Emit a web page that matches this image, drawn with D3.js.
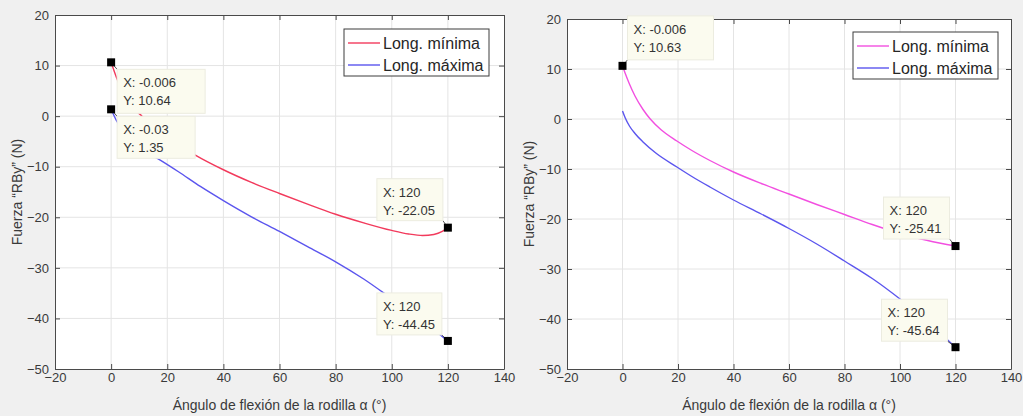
<!DOCTYPE html>
<html>
<head>
<meta charset="utf-8">
<script src="https://cdn.jsdelivr.net/npm/d3@7"></script>
<style>
  body { margin: 0; background: #f0f0f0; }
  svg { display: block; }
  text { font-family: "Liberation Sans", Arial, Helvetica, sans-serif; }
</style>
</head>
<body>
<svg id="chart" width="1023" height="416"></svg>
<script>
// ---- data ----
const xTicks = [-20, 0, 20, 40, 60, 80, 100, 120, 140];
const yTicks = [-50, -40, -30, -20, -10, 0, 10, 20];
const seriesNames = ["Long. mínima", "Long. máxima"];
const xLabel = "Ángulo de flexión de la rodilla α (°)";
const yLabel = "Fuerza \u201cRBy\u201d (N)";

// left panel – minimum length
const leftMinAngle = [0, 2, 4, 7, 11, 16, 22, 30, 40, 50, 60, 70, 80, 90, 100, 106, 111, 115, 118, 120];
const leftMinForce = [10.64, 7.5, 5.0, 2.2, 0.0, -2.4, -4.9, -7.7, -10.6, -13.1, -15.3, -17.4, -19.4, -21.1, -22.6, -23.3, -23.6, -23.4, -22.8, -22.05];
// left panel – maximum length
const leftMaxAngle = [0, 2, 5, 9, 13, 17.5, 24, 31.8, 40, 50, 60, 70, 80, 90, 100, 110, 120];
const leftMaxForce = [1.35, -1.0, -3.3, -5.5, -7.2, -8.7, -11.0, -13.9, -16.7, -19.9, -22.8, -25.8, -28.8, -32.2, -36.1, -40.1, -44.45];
// right panel – minimum length
const rightMinAngle = [0, 1, 2.5, 4.5, 7.4, 10, 14, 19.6, 25, 31.5, 40, 50, 60, 70, 80, 90, 100, 110, 120];
const rightMinForce = [10.63, 9.1, 7.0, 4.6, 1.9, 0.0, -2.2, -4.4, -6.3, -8.3, -10.6, -12.9, -15.0, -17.1, -19.1, -21.1, -22.9, -24.3, -25.41];
// right panel – maximum length
const rightMaxAngle = [0, 1, 2.5, 4.5, 7.4, 12, 19.6, 25, 31.5, 40, 50, 60, 70, 80, 90, 100, 110, 120];
const rightMaxForce = [1.6, 0.2, -1.4, -2.9, -4.6, -6.8, -9.6, -11.5, -13.6, -16.2, -19.0, -21.9, -25.0, -28.4, -31.9, -36.0, -40.6, -45.64];

// data tips
const leftTipAngles = [0, 0, 120, 120];
const leftTipForces = [10.64, 1.35, -22.05, -44.45];
const leftTipLabels = [["X: -0.006", "Y: 10.64"], ["X: -0.03", "Y: 1.35"], ["X: 120", "Y: -22.05"], ["X: 120", "Y: -44.45"]];
const rightTipAngles = [0, 120, 120];
const rightTipForces = [10.63, -25.41, -45.64];
const rightTipLabels = [["X: -0.006", "Y: 10.63"], ["X: 120", "Y: -25.41"], ["X: 120", "Y: -45.64"]];

// ---- layout / style ----
const panels = [
  {
    box: { x0: 55, x1: 504, y0: 15, y1: 369 },
    series: [
      { xs: leftMinAngle, ys: leftMinForce, color: "#f23a5c" },
      { xs: leftMaxAngle, ys: leftMaxForce, color: "#5b55ee" }
    ],
    tips: { xs: leftTipAngles, ys: leftTipForces, labels: leftTipLabels,
      place: [{ dx: 6, dy: 7, w: 88, h: 44 }, { dx: 6, dy: 7, w: 78, h: 42 },
              { dx: -71, dy: -49, w: 66, h: 42 }, { dx: -71, dy: -48, w: 65, h: 42 }] },
    legend: { right: 15, top: 14 }
  },
  {
    box: { x0: 567, x1: 1011, y0: 19, y1: 369 },
    series: [
      { xs: rightMinAngle, ys: rightMinForce, color: "#f24fe0" },
      { xs: rightMaxAngle, ys: rightMaxForce, color: "#5b55ee" }
    ],
    tips: { xs: rightTipAngles, ys: rightTipForces, labels: rightTipLabels,
      place: [{ dx: 5, dy: -50, w: 86, h: 44 }, { dx: -72, dy: -49, w: 66, h: 42 },
              { dx: -74, dy: -48, w: 66, h: 42 }] },
    legend: { right: 13, top: 13 }
  }
];

const svg = d3.select("#chart");
const axisColor = "#4a4a4a";
const textColor = "#3a3a3a";

panels.forEach(p => {
  const b = p.box;
  const x = d3.scaleLinear().domain([-20, 140]).range([b.x0, b.x1]);
  const y = d3.scaleLinear().domain([-50, 20]).range([b.y1, b.y0]);
  const g = svg.append("g");

  // plot area
  g.append("rect").attr("x", b.x0).attr("y", b.y0)
    .attr("width", b.x1 - b.x0).attr("height", b.y1 - b.y0).attr("fill", "#ffffff");

  // grid
  g.append("g").selectAll("line").data(xTicks.slice(1, -1)).join("line")
    .attr("x1", d => x(d)).attr("x2", d => x(d)).attr("y1", b.y0).attr("y2", b.y1)
    .attr("stroke", "#e4e4e4").attr("stroke-width", 1);
  g.append("g").selectAll("line").data(yTicks.slice(1, -1)).join("line")
    .attr("x1", b.x0).attr("x2", b.x1).attr("y1", d => y(d)).attr("y2", d => y(d))
    .attr("stroke", "#e4e4e4").attr("stroke-width", 1);

  // curves
  const line = d3.line().x(d => x(d[0])).y(d => y(d[1])).curve(d3.curveMonotoneX);
  p.series.forEach(s => {
    g.append("path").datum(s.xs.map((v, i) => [v, s.ys[i]]))
      .attr("d", line).attr("fill", "none")
      .attr("stroke", s.color).attr("stroke-width", 1.4);
  });

  // axes (ticks pointing inward, box on)
  const styleAxis = sel => {
    sel.selectAll("path.domain").attr("stroke", axisColor);
    sel.selectAll(".tick line").attr("stroke", axisColor);
    sel.selectAll("text").attr("fill", textColor).style("font-size", "13px")
      .style("font-family", "'Liberation Sans', Arial, sans-serif");
  };
  g.append("g").attr("transform", `translate(0,${b.y1})`)
    .call(d3.axisBottom(x).tickValues(xTicks).tickSize(-5).tickPadding(4).tickSizeOuter(0))
    .call(styleAxis);
  g.append("g").attr("transform", `translate(0,${b.y0})`)
    .call(d3.axisTop(x).tickValues(xTicks).tickSize(-5).tickSizeOuter(0).tickFormat(""))
    .call(styleAxis);
  g.append("g").attr("transform", `translate(${b.x0},0)`)
    .call(d3.axisLeft(y).tickValues(yTicks).tickSize(-5).tickPadding(6).tickSizeOuter(0))
    .call(styleAxis);
  g.append("g").attr("transform", `translate(${b.x1},0)`)
    .call(d3.axisRight(y).tickValues(yTicks).tickSize(-5).tickSizeOuter(0).tickFormat(""))
    .call(styleAxis);

  // axis titles
  g.append("text").attr("x", (b.x0 + b.x1) / 2).attr("y", 410)
    .attr("text-anchor", "middle").attr("fill", textColor).style("font-size", "14px")
    .text(xLabel);
  g.append("text")
    .attr("transform", `translate(${b.x0 - 33},${(b.y0 + b.y1) / 2}) rotate(-90)`)
    .attr("text-anchor", "middle").attr("fill", textColor).style("font-size", "14px")
    .text(yLabel);

  // legend
  const lw = 145, lh = 47;
  const lx = b.x1 - p.legend.right - lw, ly = b.y0 + p.legend.top;
  const lg = g.append("g");
  lg.append("rect").attr("x", lx).attr("y", ly).attr("width", lw).attr("height", lh)
    .attr("fill", "#ffffff").attr("stroke", "#3c3c3c").attr("stroke-width", 1);
  seriesNames.forEach((name, i) => {
    const yy = ly + 14 + i * 22;
    lg.append("line").attr("x1", lx + 4).attr("x2", lx + 36).attr("y1", yy).attr("y2", yy)
      .attr("stroke", p.series[i].color).attr("stroke-width", 1.4);
    lg.append("text").attr("x", lx + 39).attr("y", yy + 5.5)
      .attr("fill", "#262626").style("font-size", "16px").text(name);
  });

  // data tips
  const t = p.tips;
  t.xs.forEach((ax, i) => {
    const mx = x(ax), my = y(t.ys[i]);
    const pl = t.place[i];
    const bx = mx + pl.dx, by = my + pl.dy;
    const tg = g.append("g");
    // pointer from box corner to marker
    const cx = pl.dx < 0 ? bx + pl.w : bx;
    const cy = pl.dy < 0 ? by + pl.h : by;
    tg.append("line").attr("x1", cx).attr("y1", cy).attr("x2", mx).attr("y2", my)
      .attr("stroke", "#555").attr("stroke-width", 1);
    tg.append("rect").attr("x", bx).attr("y", by).attr("width", pl.w).attr("height", pl.h)
      .attr("fill", "#fbfbef").attr("stroke", "#ecece0").attr("stroke-width", 1);
    t.labels[i].forEach((s, k) => {
      tg.append("text").attr("x", bx + 6).attr("y", by + 18 + k * 18)
        .attr("fill", "#333333").style("font-size", "13px").text(s);
    });
    tg.append("rect").attr("x", mx - 4).attr("y", my - 4).attr("width", 8).attr("height", 8)
      .attr("fill", "#000000");
  });
});
</script>
</body>
</html>
